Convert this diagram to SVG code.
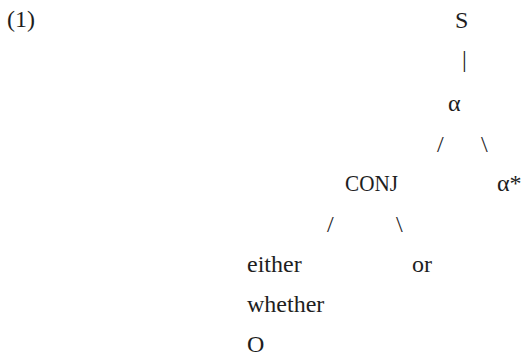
<svg xmlns="http://www.w3.org/2000/svg" width="522" height="357" viewBox="0 0 522 357">
  <style>
    text { font-family: "Liberation Serif", "DejaVu Serif", serif; font-size: 24px; fill: #1e1e1e; }
  </style>
  <rect width="522" height="357" fill="#ffffff"/>
  <g id="label"><text x="7" y="27">(1)</text></g>
  <g id="node-S"><text x="455" y="28">S</text></g>
  <g id="node-alpha"><text x="448" y="111">α</text></g>
  <g id="node-conj"><text x="345" y="191" textLength="53" lengthAdjust="spacingAndGlyphs">CONJ</text></g>
  <g id="node-alpha-star"><text x="497" y="191">α*</text></g>
  <g id="node-either"><text x="247" y="272">either</text></g>
  <g id="node-or"><text x="412" y="272">or</text></g>
  <g id="node-whether"><text x="247" y="312">whether</text></g>
  <g id="node-zero"><text x="247" y="352">O</text></g>
  <g id="connectors">
    <text x="462" y="67">|</text>
    <text x="437" y="152">/</text>
    <text x="481" y="152">\</text>
    <text x="327" y="232">/</text>
    <text x="396" y="232">\</text>
  </g>
</svg>
